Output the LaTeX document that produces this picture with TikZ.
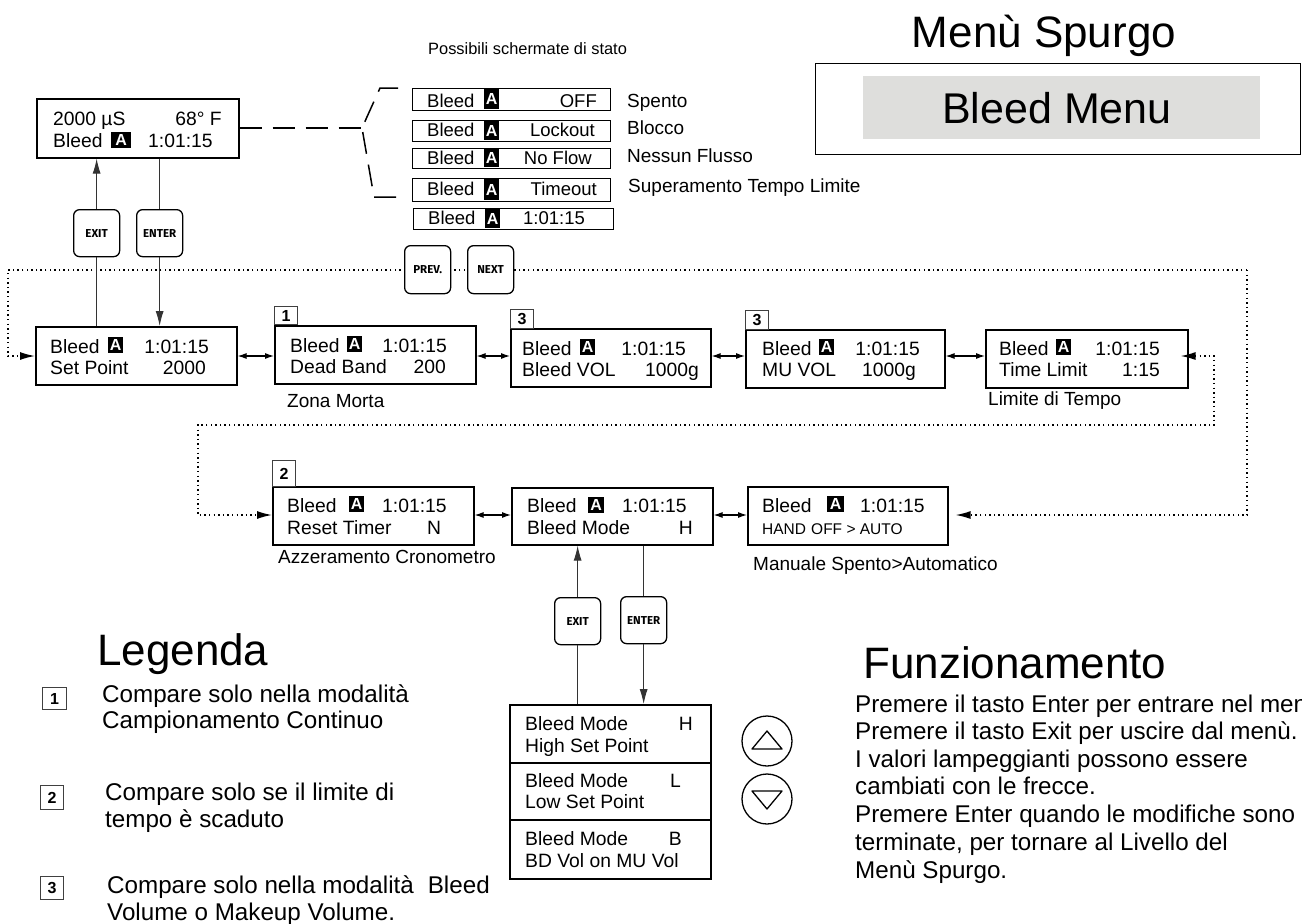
\documentclass[tikz,border=0pt]{standalone}
\usepackage{fontspec}
\setmainfont{Liberation Sans}
\newfontfamily\btnfont{Fira Sans}
\usetikzlibrary{arrows.meta}
\definecolor{menugray}{HTML}{DEDEDC}
\newcommand{\fz}[1]{\fontsize{#1}{#1}\selectfont}
\tikzset{
 lcd/.style={draw, line width=1.6pt, minimum width=201pt, minimum height=58pt, anchor=north west, inner sep=0},
 stat/.style={draw, line width=1.3pt, minimum width=198pt, anchor=north west, inner sep=0},
 txt/.style={inner sep=0, anchor=base west, font=\fz{19.3}},
 txr/.style={inner sep=0, anchor=base east, font=\fz{19.3}},
 txs/.style={inner sep=0, anchor=base west, font=\fz{18.5}},
 txsr/.style={inner sep=0, anchor=base east, font=\fz{18.5}},
 lbl/.style={inner sep=0, anchor=base west, font=\fz{19}},
 big/.style={inner sep=0, anchor=base west, font=\fz{24.2}},
 ablk/.style={fill=black, text=white, inner sep=0, anchor=north west, font=\bfseries\fz{16}},
 btn/.style={draw, line width=1.3pt, rounded corners=6pt, fill=white, minimum width=46pt, minimum height=47pt, anchor=north west, inner sep=0, font=\btnfont\bfseries\fz{11.5}},
 tag/.style={draw=black!75, line width=1pt, minimum width=23pt, minimum height=19pt, anchor=north west, inner sep=0, font=\bfseries\fz{16}},
 conn/.style={line width=0.9pt, draw=black!80},
 arr/.style={conn, -{Latex[length=15pt,width=8pt]}},
 dbl/.style={line width=1.1pt, {Latex[length=9pt,width=6pt]}-{Latex[length=9pt,width=6pt]}},
 dotl/.style={line width=1.4pt, dash pattern=on 1.4pt off 3.2pt},
 dashl/.style={line width=1.5pt, dash pattern=on 22pt off 11pt},
}
\begin{document}
\begin{tikzpicture}[x=1pt,y=-1pt]
\useasboundingbox (0,0) rectangle (1302,924);
\coordinate (r1) at (0,356);
\coordinate (r2) at (0,515);

% ---- titles
\node[inner sep=0, anchor=base, font=\fz{44}] (ttl) at (1044,47) {Menù Spurgo};
\node[draw, line width=1.4pt, minimum width=485pt, minimum height=91pt, anchor=north west, inner sep=0] (mbox) at (815,63) {};
\node[fill=menugray, minimum width=397pt, minimum height=63pt, anchor=north west, inner sep=0] (mgray) at (863,76) {};
\node[inner sep=0, anchor=base, font=\fz{43}] (mtxt) at (1057,123) {Bleed Menu};
\node[inner sep=0, anchor=base west, font=\fz{16.4}] (poss) at (428,54) {Possibili schermate di stato};

% ---- dotted loop corners
\coordinate (oc) at (1247,270);
\coordinate (ol) at (8,270);
\coordinate (olb) at (8,356);
\coordinate (orb) at (1247,515);
\coordinate (ia) at (1214,356);
\coordinate (ib) at (1214,425);
\coordinate (ic) at (198,425);
\coordinate (id) at (198,515);

% ---- top box
\node[lcd, minimum width=202pt, minimum height=59pt] (tb) at (36,98) {};
\node[txt] (tbA) at (53,125) {2000 µS};
\node[txr] (tbB) at (222,125) {68° F};
\node[txt] (tbC) at (53,147) {Bleed};
\node[ablk, minimum width=20pt, minimum height=16pt] (tbD) at (111,132) {A};
\node[txt] (tbE) at (148,147) {1:01:15};

% ---- dashed bracket
\coordinate (bk) at (362,128);
\coordinate (bkt1) at (398,88);
\coordinate (bkt2) at (380,88);
\coordinate (bkb1) at (374,197);
\coordinate (bkb2) at (400,197);
\draw[dashl] (tb.east |- bk) -- (bk);
\draw[dashl] (bkt1) -- (bkt2) -- (bk) -- (bkb1) -- (bkb2);

% ---- status screens
\node[stat, minimum height=22pt] (s1) at (412,88) {};
\node[txs] (s1a) at (427,107) {Bleed};
\node[ablk, minimum width=15pt, minimum height=20pt] (s1b) at (484,89) {A};
\node[txsr] (s1c) at (597,107) {OFF};
\node[stat, minimum height=21pt] (s2) at (412,120) {};
\node[txs] (s2a) at (427,136) {Bleed};
\node[ablk, minimum width=15pt, minimum height=19pt] (s2b) at (484,121) {A};
\node[txsr] (s2c) at (595,136) {Lockout};
\node[stat, minimum height=20pt] (s3) at (412,148) {};
\node[txs] (s3a) at (427,164) {Bleed};
\node[ablk, minimum width=15pt, minimum height=18pt] (s3b) at (484,149) {A};
\node[txsr] (s3c) at (592,164) {No Flow};
\node[stat, minimum height=23pt] (s4) at (412,178) {};
\node[txs] (s4a) at (427,195) {Bleed};
\node[ablk, minimum width=15pt, minimum height=21pt] (s4b) at (484,179) {A};
\node[txsr] (s4c) at (597,195) {Timeout};
\node[stat, minimum width=200pt, minimum height=21pt] (s5) at (413,208) {};
\node[txs] (s5a) at (428,224) {Bleed};
\node[ablk, minimum width=15pt, minimum height=19pt] (s5b) at (485,209) {A};
\node[txs] (s5c) at (523,224) {1:01:15};
\node[lbl] (l1) at (627,107) {Spento};
\node[lbl] (l2) at (627,134) {Blocco};
\node[lbl] (l3) at (627,162) {Nessun Flusso};
\node[lbl] (l4) at (628,192) {Superamento Tempo Limite};

% ---- row 1
\node[lcd] (sp) at (35,326) {};
\node[txt] (spa) at (50,353) {Bleed};
\node[ablk, minimum width=15pt, minimum height=16pt] (spb) at (108,337) {A};
\node[txr] (spc) at (209,353) {1:01:15};
\node[txt] (spd) at (50,374) {Set Point};
\node[txr] (spe) at (206,374) {2000};

\node[lcd] (db) at (274,325) {};
\node[tag, minimum height=18pt] (tg1) at (274,306) {1};
\node[txt] (dba) at (290,352) {Bleed};
\node[ablk, minimum width=15pt, minimum height=16pt] (dbb) at (347,336) {A};
\node[txr] (dbc) at (447,352) {1:01:15};
\node[txt] (dbd) at (290,373) {Dead Band};
\node[txr] (dbe) at (446,373) {200};
\node[lbl] (zm) at (287,407) {Zona Morta};

\node[lcd, minimum width=200pt] (bv) at (510,328) {};
\node[tag] (tg3a) at (510,309) {3};
\node[txt] (bva) at (522,355) {Bleed};
\node[ablk, minimum width=15pt, minimum height=16pt] (bvb) at (580,339) {A};
\node[txr] (bvc) at (686,355) {1:01:15};
\node[txt] (bvd) at (522,376) {Bleed VOL};
\node[txr] (bve) at (699,376) {1000g};

\node[lcd, minimum width=199pt] (mu) at (745,329) {};
\node[tag] (tg3b) at (745,310) {3};
\node[txt] (mua) at (762,355) {Bleed};
\node[ablk, minimum width=15pt, minimum height=16pt] (mub) at (819,339) {A};
\node[txr] (muc) at (920,355) {1:01:15};
\node[txt] (mud) at (762,376) {MU VOL};
\node[txr] (mue) at (916,376) {1000g};

\node[lcd, minimum width=202pt] (tl) at (985,329) {};
\node[txt] (tla) at (999,355) {Bleed};
\node[ablk, minimum width=15pt, minimum height=16pt] (tlb) at (1056,339) {A};
\node[txr] (tlc) at (1160,355) {1:01:15};
\node[txt] (tld) at (999,376) {Time Limit};
\node[txr] (tle) at (1160,376) {1:15};
\node[lbl] (ldt) at (988,405) {Limite di Tempo};

% ---- row 2
\node[lcd] (rt) at (272,486) {};
\node[tag, minimum height=26pt] (tg2) at (272,460) {2};
\node[txt] (rta) at (287,512) {Bleed};
\node[ablk, minimum width=15pt, minimum height=16pt] (rtb) at (349,496) {A};
\node[txt] (rtc) at (382,512) {1:01:15};
\node[txt] (rtd) at (287,534) {Reset Timer};
\node[txt] (rte) at (427,534) {N};
\node[lbl] (azc) at (278,563) {Azzeramento Cronometro};

\node[lcd, minimum height=57pt] (bm) at (511,487) {};
\node[txt] (bma) at (527,512) {Bleed};
\node[ablk, minimum width=16pt, minimum height=16pt] (bmb) at (588,497) {A};
\node[txt] (bmc) at (622,512) {1:01:15};
\node[txt] (bmd) at (527,534) {Bleed Mode};
\node[txr] (bme) at (693,534) {H};

\node[lcd, minimum width=200pt] (hd) at (747,486) {};
\node[txt] (hda) at (762,512) {Bleed};
\node[ablk, minimum width=17pt, minimum height=16pt] (hdb) at (827,496) {A};
\node[txt] (hdc) at (860,512) {1:01:15};
\node[inner sep=0, anchor=base west, font=\fz{15.5}] (hdd) at (762,534) {HAND};
\node[inner sep=0, anchor=base west, font=\fz{15.5}] (hde) at (811,534) {OFF > AUTO};
\node[lbl] (msa) at (753,570) {Manuale Spento>Automatico};

% ---- dotted connectors
\draw[dotl, -{Latex[length=15pt,width=8pt]}] (oc) -- (ol) -- (olb) -- (sp.west |- r1);
\draw[dotl, -{Latex[length=15pt,width=8pt]}, shorten >=7pt] (oc) -- (orb) -- (hd.east |- r2);
\draw[dotl, {Latex[length=15pt,width=8pt]}-{Latex[length=15pt,width=8pt]}, shorten <=-8pt] (tl.east |- r1) -- (ia) -- (ib) -- (ic) -- (id) -- (rt.west |- r2);

% ---- double arrows
\draw[dbl] (sp.east |- r1) -- (db.west |- r1);
\draw[dbl] (db.east |- r1) -- (bv.west |- r1);
\draw[dbl] (bv.east |- r1) -- (mu.west |- r1);
\draw[dbl] (mu.east |- r1) -- (tl.west |- r1);
\draw[dbl] (rt.east |- r2) -- (bm.west |- r2);
\draw[dbl] (bm.east |- r2) -- (hd.west |- r2);

% ---- buttons top
\node[btn] (ex1) at (73,209) {EXIT};
\node[btn] (en1) at (136,209) {ENTER};
\draw[conn] (ex1.south |- sp.north) -- (ex1.south);
\draw[arr] (ex1.north) -- (ex1.north |- tb.south);
\draw[conn] (en1.north |- tb.south) -- (en1.north);
\draw[arr] (en1.south) -- (en1.south |- sp.north);

\node[btn, minimum height=48pt] (pv) at (404,245) {PREV.};
\node[btn, minimum height=48pt] (nx) at (467,245) {NEXT};

% ---- bleed mode submenu
\node[lcd, minimum height=58pt] (m1) at (509,704) {};
\node[lcd, minimum height=57pt] (m2) at (509,762) {};
\node[lcd, minimum height=59pt] (m3) at (509,819) {};
\node[txt] (m1a) at (525,730) {Bleed Mode};
\node[txr] (m1b) at (693,730) {H};
\node[txt] (m1c) at (525,752) {High Set Point};
\node[txt] (m2a) at (525,787) {Bleed Mode};
\node[txr] (m2b) at (681,787) {L};
\node[txt] (m2c) at (525,808) {Low Set Point};
\node[txt] (m3a) at (525,845) {Bleed Mode};
\node[txr] (m3b) at (682,845) {B};
\node[txt] (m3c) at (525,867) {BD Vol on MU Vol};

\node[btn] (ex2) at (554,597) {EXIT};
\node[btn] (en2) at (620,596) {ENTER};
\draw[conn] (ex2.south |- m1.north) -- (ex2.south);
\draw[arr] (ex2.north) -- (ex2.north |- bm.south);
\draw[conn] (en2.north |- bm.south) -- (en2.north);
\draw[arr] (en2.south) -- (en2.south |- m1.north);

% ---- arrow keys
\node[draw, circle, line width=1.3pt, minimum size=50pt, inner sep=0] (up) at (767,741) {};
\node[draw, circle, line width=1.3pt, minimum size=50pt, inner sep=0] (dn) at (767,799) {};
\draw[line width=1.3pt, line join=round] (up.center) ++(0,-10) -- ++(-15,18) -- ++(30,0) -- cycle;
\draw[line width=1.3pt, line join=round] (dn.center) ++(0,10) -- ++(-15,-18) -- ++(30,0) -- cycle;

% ---- legend
\node[inner sep=0, anchor=base west, font=\fz{44}] (leg) at (97,665) {Legenda};
\node[tag, minimum width=24pt, minimum height=22pt] (lg1) at (42,687) {1};
\node[big] (lg1a) at (102,702) {Compare solo nella modalità};
\node[big] (lg1b) at (102,728) {Campionamento Continuo};
\node[tag, minimum width=23pt, minimum height=24pt] (lg2) at (40,785) {2};
\node[big] (lg2a) at (105,800) {Compare solo se il limite di};
\node[big] (lg2b) at (105,827) {tempo è scaduto};
\node[tag, minimum width=23pt, minimum height=23pt] (lg3) at (40,876) {3};
\node[big] (lg3a) at (107,893) {Compare solo nella modalità\hspace{14pt}Bleed};
\node[big] (lg3b) at (107,920) {Volume o Makeup Volume.};

% ---- operation
\node[inner sep=0, anchor=base west, font=\fz{44}] (fun) at (863,678) {Funzionamento};
\node[big] (f1) at (855,712) {Premere il tasto Enter per entrare nel menù.};
\node[big] (f2) at (855,739) {Premere il tasto Exit per uscire dal menù.};
\node[big] (f3) at (855,767) {I valori lampeggianti possono essere};
\node[big] (f4) at (855,794) {cambiati con le frecce.};
\node[big] (f5) at (855,822) {Premere Enter quando le modifiche sono};
\node[big] (f6) at (855,850) {terminate, per tornare al Livello del};
\node[big] (f7) at (855,878) {Menù Spurgo.};
\end{tikzpicture}
\end{document}
